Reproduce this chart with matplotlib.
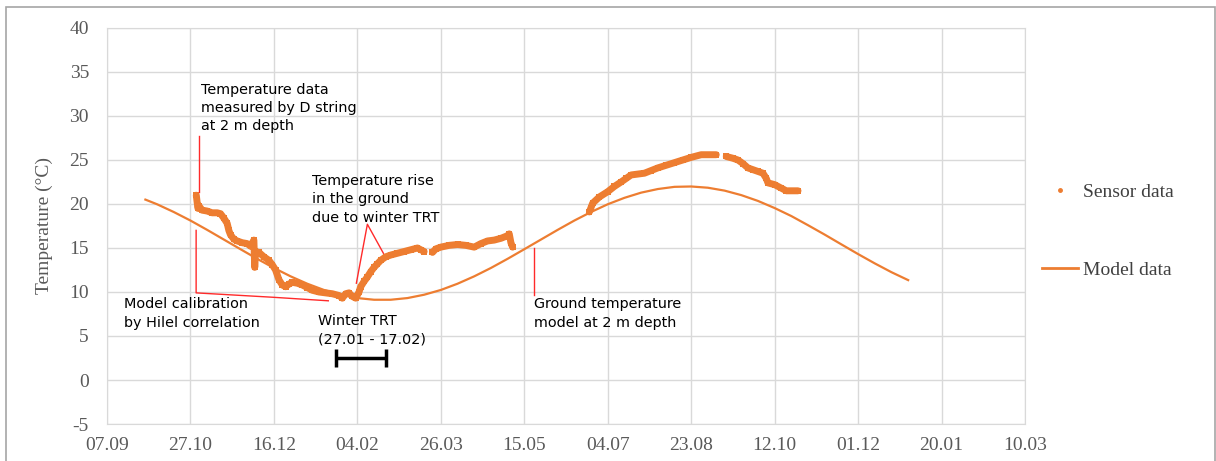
import numpy as np
import matplotlib
matplotlib.use("Agg")
import matplotlib.pyplot as plt
from matplotlib.lines import Line2D
from matplotlib.patches import Rectangle

# --- data (x = days after 07.09) ---
date_labels = ["07.09", "27.10", "16.12", "04.02", "26.03", "15.05",
               "04.07", "23.08", "12.10", "01.12", "20.01", "10.03"]
tick_days = [0, 50, 100, 150, 200, 250, 300, 350, 400, 450, 500, 550]

model_days = [23, 30, 40, 50, 60, 70, 80, 90, 100, 110, 120, 130, 140, 150, 160, 170,
              180, 190, 200, 210, 220, 230, 240, 250, 260, 270, 280, 290, 300, 310,
              320, 330, 340, 350, 360, 370, 380, 390, 400, 410, 420, 430, 440, 450,
              460, 470, 480]
model_temp = [20.5, 19.97, 19.09, 18.12, 17.06, 15.96, 14.86, 13.77, 12.73, 11.78, 10.94,
              10.23, 9.69, 9.31, 9.12, 9.12, 9.31, 9.69, 10.23, 10.94, 11.78, 12.73, 13.77,
              14.86, 15.96, 17.06, 18.12, 19.09, 19.97, 20.7, 21.29, 21.7, 21.95, 21.99,
              21.85, 21.52, 21.01, 20.35, 19.54, 18.63, 17.59, 16.52, 15.41, 14.31, 13.25,
              12.25, 11.35]

# sensor record, NaN marks gaps in logging
sensor_days = [53.5, 54, 54.5, 55, 57, 60, 63, 66, 68, 70, 72, 73, 74, 76, 78, 81, 84, 86,
               88, 88.5, 89, 91, 94, 97, 99, 101, 103, 105, 107, 109, 111, 114, 117, 120,
               123, 127, 131, 135, 139, 141, 143, 145, 147, 149, 151, 152, 154, 156, 158,
               160, 162, 164, 167, 170, 174, 178, 182, 186, 188, 190, np.nan,
               195, 197, 200, 205, 210, 215, 220, 224, 228, 232, 236, 240, 241, 242, 243, np.nan,
               289, 290, 291, 295, 300, 304, 308, 311, 314, 318, 322, 326, 330, 335, 340,
               345, 350, 356, 360, 365, np.nan,
               371, 375, 378, 381, 384, 387, 390, 393, 395, 396, 400, 404, 407, 410, 414]
sensor_temp = [21.0, 20.2, 19.5, 19.8, 19.3, 19.2, 19.0, 19.0, 18.9, 18.4, 17.8, 17.0, 16.5,
               16.0, 15.8, 15.6, 15.5, 15.2, 15.9, 12.8, 14.6, 14.5, 14.0, 13.6, 13.1, 12.5,
               11.4, 10.8, 10.6, 10.9, 11.1, 11.0, 10.8, 10.5, 10.2, 10.0, 9.9, 9.8, 9.6, 9.3,
               9.8, 9.9, 9.5, 9.3, 10.0, 10.6, 11.2, 11.7, 12.3, 12.8, 13.2, 13.6, 14.0, 14.2,
               14.4, 14.6, 14.8, 15.0, 14.8, 14.6, np.nan,
               14.5, 14.9, 15.1, 15.3, 15.4, 15.3, 15.1, 15.5, 15.8, 15.9, 16.1, 16.4, 16.6,
               15.6, 15.1, np.nan,
               19.1, 19.6, 20.1, 20.8, 21.4, 22.0, 22.5, 22.9, 23.3, 23.4, 23.5, 23.8, 24.1,
               24.4, 24.7, 25.0, 25.3, 25.6, 25.6, 25.6, np.nan,
               25.4, 25.2, 25.0, 24.6, 24.1, 23.9, 23.7, 23.5, 22.9, 22.4, 22.2, 21.8, 21.5,
               21.5, 21.5]

trt_start, trt_end, trt_level = 137, 167, 2.5

ORANGE = "#ED7D31"
GRID = "#d9d9d9"
GREY_TXT = "#595959"
RED = "#ff2a2a"

plt.rcParams['font.family'] = ['Liberation Serif', 'DejaVu Serif']
plt.rcParams['axes.unicode_minus'] = False

fig = plt.figure(figsize=(12.16, 4.61), dpi=100)
ax = fig.add_axes([107 / 1216, 37 / 461, 918 / 1216, 396 / 461])

ax.plot(model_days, model_temp, color=ORANGE, lw=1.6, zorder=3)
ax.plot(sensor_days, sensor_temp, color=ORANGE, lw=5, marker='s', ms=5, mew=0,
        solid_capstyle='round', solid_joinstyle='round', zorder=4)

ax.set_xlim(0, 550)
ax.set_ylim(-5, 40)
ax.set_xticks(tick_days)
ax.set_xticklabels(date_labels)
ax.set_yticks(np.arange(-5, 41, 5))
ax.tick_params(axis='both', length=0, labelsize=14, colors=GREY_TXT)
ax.tick_params(axis='y', pad=13)
ax.tick_params(axis='x', pad=9)
ax.grid(True, color=GRID, lw=1)
ax.set_axisbelow(True)
for s in ax.spines.values():
    s.set_color(GRID)
ax.set_ylabel("Temperature (°C)", fontsize=14, color=GREY_TXT, labelpad=12)

# winter TRT period
ax.errorbar((trt_start + trt_end) / 2, trt_level, xerr=(trt_end - trt_start) / 2,
            color='black', elinewidth=2.5, capsize=6.5, capthick=2.5, zorder=5)

# annotation leaders
lkw = dict(color=RED, lw=1, zorder=6)
ax.plot([55.2, 55.2], [27.7, 21.4], **lkw)
ax.plot([53.4, 53.4, 99.6, 132.6], [17.0, 9.9, 9.4, 9.0], **lkw)
ax.plot([149.4, 156, 165.6], [11.0, 17.7, 14.4], **lkw)
ax.plot([256.1, 256.1], [15.0, 9.66], **lkw)

tkw = dict(fontsize=10.4, family='DejaVu Sans', color='black', va='top', ha='left',
           linespacing=1.4, zorder=7)
ax.text(56.2, 33.8, "Temperature data\nmeasured by D string\nat 2 m depth", **tkw)
ax.text(10.2, 9.4, "Model calibration\nby Hilel correlation", **tkw)
ax.text(123, 23.4, "Temperature rise\nin the ground\ndue to winter TRT", **tkw)
ax.text(126.6, 7.5, "Winter TRT\n(27.01 - 17.02)", **tkw)
ax.text(255.6, 9.4, "Ground temperature\nmodel at 2 m depth", **tkw)

handles = [Line2D([], [], color=ORANGE, ls='none', marker='o', ms=2.5),
           Line2D([], [], color=ORANGE, lw=2)]
leg = fig.legend(handles, ["Sensor data", "Model data"], loc='center left',
                 bbox_to_anchor=(1042 / 1216, 1 - 231 / 461), frameon=False,
                 fontsize=14, borderpad=0, borderaxespad=0, handlelength=1.85,
                 handletextpad=0.25, labelspacing=3.1)
for t in leg.get_texts():
    t.set_color("#404040")

fig.patches.append(Rectangle((6 / 1216, -0.05), 1209 / 1216, 1.05 - 7 / 461,
                             transform=fig.transFigure, fill=False,
                             edgecolor="#a6a6a6", lw=1.2))

fig.savefig("out.png", dpi=100)
